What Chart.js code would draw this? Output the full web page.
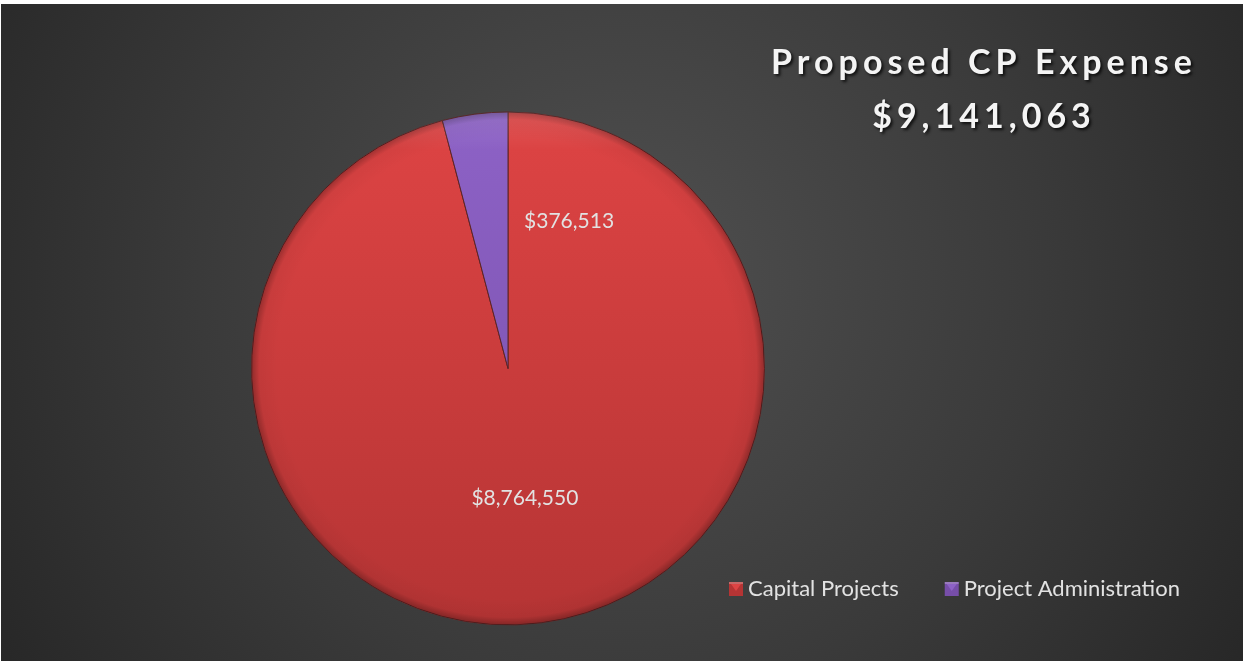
<!DOCTYPE html>
<html><head><meta charset="utf-8">
<script src="https://cdn.jsdelivr.net/npm/chart.js@4"></script>
<style>
html,body{margin:0;padding:0;background:#fff;width:1244px;height:663px;overflow:hidden}
#wrap{position:absolute;left:1px;top:4px;width:1242px;height:657px}
</style></head><body>
<div id="wrap"><canvas id="c"></canvas></div>
<script>
const categories = ['Capital Projects', 'Project Administration'];
const values = [8764550, 376513];
const titleText = 'Proposed CP Expense';
const total = values.reduce((a, b) => a + b, 0);
const fmt = v => '$' + v.toLocaleString('en-US');

const faceTop = ['#de4444', '#8d62c6'];
const faceBottom = ['#b53434', '#774ea9'];
const FONT = 'Lato, "Open Sans", sans-serif';

function faceGradient(ctx) {
  const chart = ctx.chart;
  const a = chart.chartArea;
  if (!a) return faceTop[ctx.dataIndex];
  const g = chart.ctx.createLinearGradient(0, a.top, 0, a.bottom);
  g.addColorStop(0, faceTop[ctx.dataIndex]);
  g.addColorStop(1, faceBottom[ctx.dataIndex]);
  return g;
}

const bgPlugin = {
  id: 'bg',
  beforeDraw(chart) {
    const { ctx, width, height } = chart;
    const g = ctx.createRadialGradient(width * 0.5, height * 0.42, 0, width * 0.5, height * 0.42, width * 0.62);
    g.addColorStop(0, '#505050');
    g.addColorStop(0.55, '#3a3a3a');
    g.addColorStop(1, '#252525');
    ctx.save();
    ctx.fillStyle = g;
    ctx.fillRect(0, 0, width, height);
    ctx.restore();
  }
};

const decoPlugin = {
  id: 'deco',
  afterDatasetsDraw(chart) {
    const { ctx } = chart;
    const meta = chart.getDatasetMeta(0);
    const arc0 = meta.data[0];
    const cx = arc0.x, cy = arc0.y, r = arc0.outerRadius;
    // bevel rim
    ctx.save();
    ctx.beginPath();
    ctx.arc(cx, cy, r, 0, Math.PI * 2);
    ctx.clip();
    const rim = ctx.createRadialGradient(cx, cy, r * 0.9, cx, cy, r);
    rim.addColorStop(0, 'rgba(0,0,0,0)');
    rim.addColorStop(0.7, 'rgba(0,0,0,0.04)');
    rim.addColorStop(1, 'rgba(0,0,0,0.28)');
    ctx.fillStyle = rim;
    ctx.fillRect(cx - r, cy - r, 2 * r, 2 * r);
    const hl = ctx.createLinearGradient(0, cy - r, 0, cy - r * 0.85);
    hl.addColorStop(0, 'rgba(255,255,255,0.10)');
    hl.addColorStop(1, 'rgba(255,255,255,0)');
    ctx.fillStyle = hl;
    ctx.fillRect(cx - r, cy - r, 2 * r, r * 0.15);
    ctx.restore();

    // data labels
    const place = [{ k: 0.51, shift: 0 }, { k: 0.62, shift: 30 }];
    ctx.save();
    ctx.font = '21px ' + FONT;
    ctx.fillStyle = '#e2e2e2';
    ctx.textAlign = 'center';
    ctx.textBaseline = 'middle';
    meta.data.forEach((arc, i) => {
      const mid = (arc.startAngle + arc.endAngle) / 2 + place[i].shift * Math.PI / 180;
      const d = r * place[i].k;
      ctx.fillText(fmt(values[i]), cx + Math.cos(mid) * d, cy + Math.sin(mid) * d);
    });
    ctx.restore();

    // title
    ctx.save();
    ctx.font = 'bold 34px ' + FONT;
    ctx.letterSpacing = '5px';
    ctx.fillStyle = '#f4f4f4';
    ctx.textAlign = 'center';
    ctx.textBaseline = 'alphabetic';
    ctx.shadowColor = 'rgba(0,0,0,0.75)';
    ctx.shadowOffsetX = 2;
    ctx.shadowOffsetY = 2;
    ctx.shadowBlur = 3;
    ctx.fillText(titleText, 983, 70);
    ctx.fillText(fmt(total), 983, 124);
    ctx.restore();

    // legend
    ctx.save();
    ctx.font = '22px ' + FONT;
    ctx.textBaseline = 'alphabetic';
    let x = 728;
    const base = 592, size = 14;
    categories.forEach((name, i) => {
      const y0 = base - size;
      ctx.fillStyle = faceBottom[i];
      ctx.fillRect(x, y0, size, size);
      ctx.fillStyle = faceTop[i];
      ctx.beginPath();
      ctx.moveTo(x + 2, y0 + 2); ctx.lineTo(x + size - 2, y0 + 2); ctx.lineTo(x + size / 2, y0 + size / 2 + 2);
      ctx.closePath(); ctx.fill();
      ctx.fillStyle = 'rgba(255,255,255,0.25)';
      ctx.fillRect(x, y0, size, 2);
      ctx.fillStyle = '#e2e2e2';
      ctx.fillText(name, x + size + 5, base);
      x += size + 5 + ctx.measureText(name).width + 46;
    });
    ctx.restore();
  }
};

new Chart(document.getElementById('c'), {
  type: 'pie',
  data: {
    labels: categories,
    datasets: [{
      data: values,
      backgroundColor: faceGradient,
      borderColor: '#5e2424',
      borderWidth: 1
    }]
  },
  options: {
    responsive: true,
    maintainAspectRatio: false,
    animation: false,
    layout: { padding: { left: 250, right: 478, top: 107.5, bottom: 35.5 } },
    plugins: { legend: { display: false }, tooltip: { enabled: false }, title: { display: false } }
  },
  plugins: [bgPlugin, decoPlugin]
});
</script>
</body></html>
